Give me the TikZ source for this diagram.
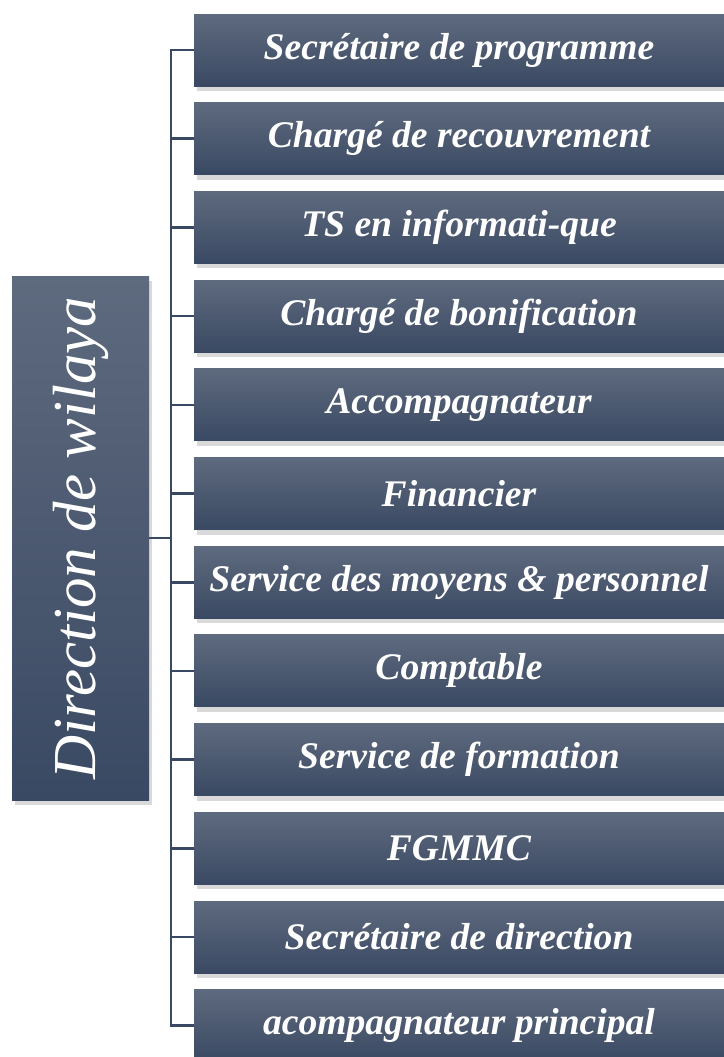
\documentclass[tikz,border=0pt]{standalone}
\usepackage{fontspec}
\setmainfont{Liberation Serif}
\usetikzlibrary{shadows}
\definecolor{boxtop}{HTML}{5E6A7E}
\definecolor{boxbot}{HTML}{3A4963}
\definecolor{linkcol}{HTML}{3A4963}
\begin{document}
\begin{tikzpicture}[x=0.5pt, y=-0.5pt,
  post/.style={rectangle, minimum width=265pt, minimum height=36pt,
    top color=boxtop, bottom color=boxbot, text=white, inner sep=0pt,
    font=\fontsize{18.8}{20}\selectfont\bfseries\itshape,
    drop shadow={shadow xshift=1.5pt, shadow yshift=-2.5pt, opacity=0.3}},
  head/.style={post, minimum width=68.5pt, minimum height=262pt,
    font=\fontsize{30.5}{32}\selectfont\itshape},
  link/.style={draw=linkcol, line width=1.3pt},
]
\useasboundingbox (0,0) rectangle (724,1057);
\node[head] (dir) at (80.5,538) {\rotatebox{90}{Direction de wilaya}};
\foreach \txt [count=\i] in {Secrétaire de programme, Chargé de recouvrement,
  TS en informati-que, Chargé de bonification, Accompagnateur, Financier,
  Service des moyens \& personnel, Comptable, Service de formation, FGMMC,
  Secrétaire de direction, acompagnateur principal}
  \node[post] (p\i) at (459,{50+(\i-1)*88.7}) {\txt};
\coordinate (bus) at (171,538);
\draw[link] (dir.east) -- (bus);
\draw[link] (p1.west) -| (bus) |- (p12.west);
\foreach \i in {2,...,11}
  \draw[link] (p\i.west) -- (bus |- p\i.west);
\end{tikzpicture}
\end{document}
